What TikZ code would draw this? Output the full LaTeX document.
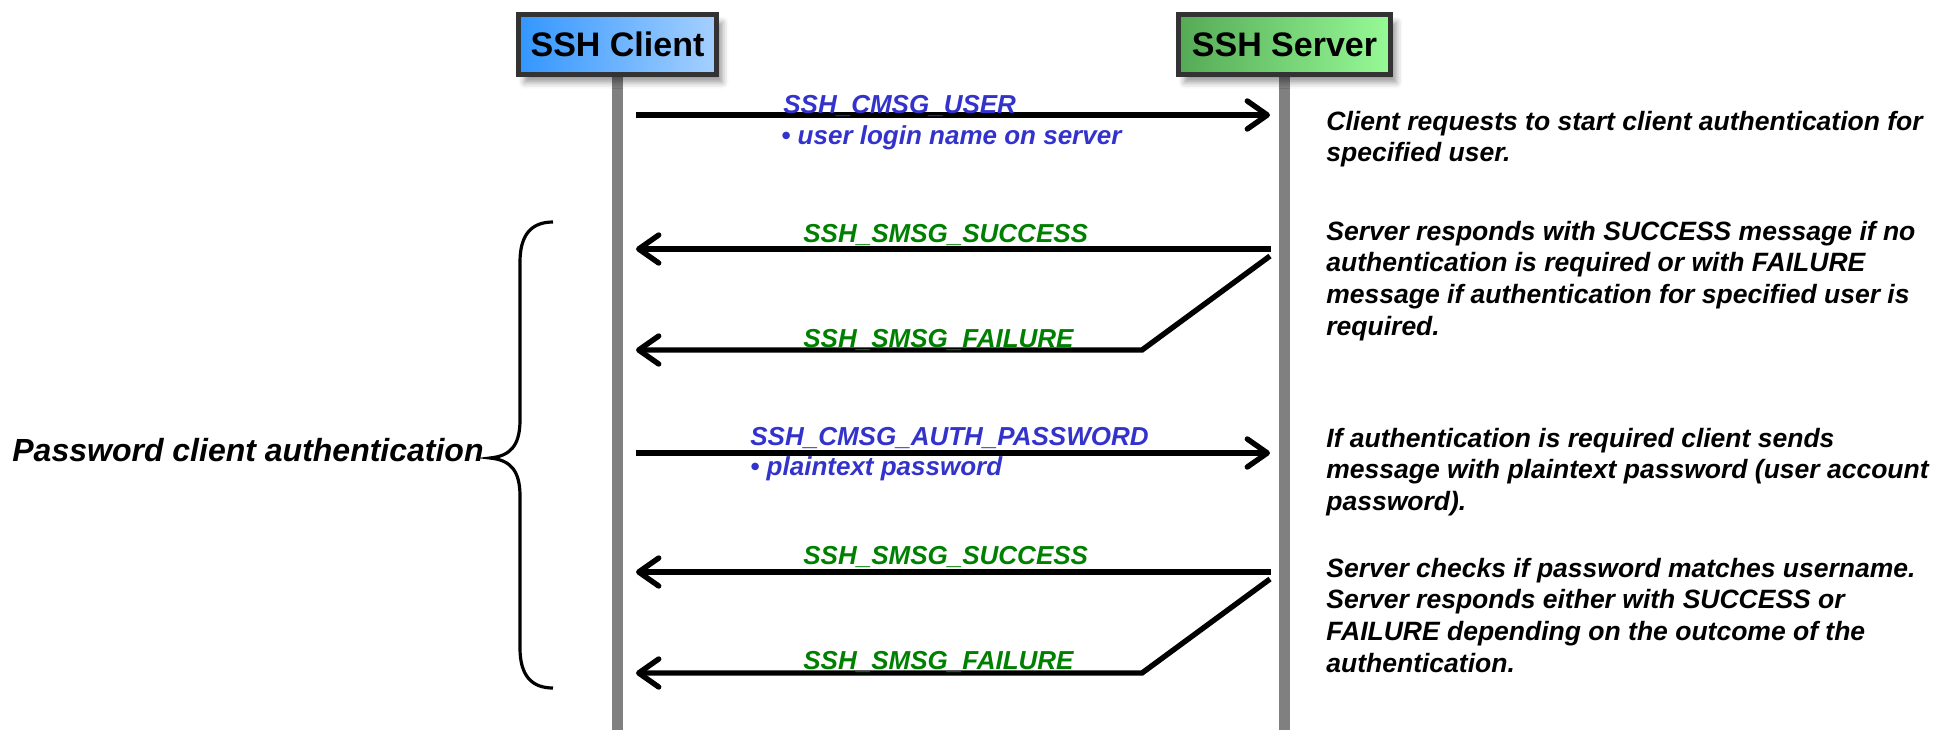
\documentclass[tikz,border=0pt]{standalone}
\usepackage{fontspec}
\setmainfont{Liberation Sans}
\usetikzlibrary{arrows.meta,shadows.blur,backgrounds}
\definecolor{lblue}{RGB}{51,51,204}
\definecolor{lgreen}{RGB}{0,128,0}
\definecolor{lifegray}{RGB}{128,128,128}
\definecolor{bordergray}{RGB}{51,51,51}
\definecolor{cliA}{RGB}{51,150,255}
\definecolor{cliB}{RGB}{165,208,255}
\definecolor{srvA}{RGB}{85,170,85}
\definecolor{srvB}{RGB}{150,250,150}
\begin{document}
\begin{tikzpicture}[x=0.5pt,y=-0.5pt,
  hdr/.style={draw=bordergray, line width=2.5pt, inner sep=0pt, minimum height=30pt,
    font=\fontsize{17}{20}\selectfont\bfseries,
    blur shadow={shadow xshift=3pt,shadow yshift=-4pt,shadow blur radius=3pt,shadow opacity=40}},
  lifeline/.style={draw=lifegray, line width=5.5pt},
  msg/.style={draw=black, line width=2.7pt, -{Straight Barb[length=10pt,width=14pt,round]}},
  clabel/.style={anchor=base west, inner sep=0pt, text=lblue, font=\fontsize{13}{15.9}\selectfont\bfseries\itshape},
  slabel/.style={anchor=base west, inner sep=0pt, text=lgreen, font=\fontsize{13}{15.9}\selectfont\bfseries\itshape},
  note/.style={anchor=base west, inner sep=0pt, font=\fontsize{13.25}{15.9}\selectfont\bfseries\itshape},
  brace/.style={draw=black, line width=1.6pt}
]
\useasboundingbox (0,0) rectangle (1935,730);

% headers
\node[hdr, minimum width=99pt, left color=cliA, middle color=cliA, right color=cliB] (client) at (617.5,44.5) {SSH Client};
\node[hdr, minimum width=106pt, left color=srvA, right color=srvB] (server) at (1284.5,44.5) {SSH Server};

% lifelines
\coordinate (cbot) at (617.5,730);
\coordinate (sbot) at (1284.5,730);
\begin{scope}[on background layer]
  \draw[lifeline] (client.south) -- (cbot);
  \draw[lifeline] (server.south) -- (sbot);
\end{scope}

% message endpoints
\coordinate (c1) at (636,115);  \coordinate (s1) at (1270,115);
\coordinate (s2) at (1271,249); \coordinate (c2) at (636,249);
\coordinate (s3) at (1270,256); \coordinate (k3) at (1142,350); \coordinate (c3) at (636,350);
\coordinate (c4) at (636,453);  \coordinate (s4) at (1270,453);
\coordinate (s5) at (1271,572); \coordinate (c5) at (636,572);
\coordinate (s6) at (1270,579); \coordinate (k6) at (1142,673); \coordinate (c6) at (636,673);

\draw[msg] (c1) -- (s1);
\draw[msg] (s2) -- (c2);
\draw[msg] (s3) -- (k3) -- (c3);
\draw[msg] (c4) -- (s4);
\draw[msg] (s5) -- (c5);
\draw[msg] (s6) -- (k6) -- (c6);

% message labels
\node[clabel] (l1) at (783,113) {SSH\_CMSG\_USER};
\node[clabel] (l1b) at (781,144) {• user login name on server};
\node[slabel] (l2) at (803,242) {SSH\_SMSG\_SUCCESS};
\node[slabel] (l3) at (803,347) {SSH\_SMSG\_FAILURE};
\node[clabel] (l4) at (750,445) {SSH\_CMSG\_AUTH\_PASSWORD};
\node[clabel] (l4b) at (750,475) {• plaintext password};
\node[slabel] (l5) at (803,564) {SSH\_SMSG\_SUCCESS};
\node[slabel] (l6) at (803,669) {SSH\_SMSG\_FAILURE};

% notes
\node[note] (n1) at (1326,130) {\begin{tabular}[t]{@{}l@{}}Client requests to start client authentication for\\ specified user.\end{tabular}};
\node[note] (n2) at (1326,240) {\begin{tabular}[t]{@{}l@{}}Server responds with SUCCESS message if no\\ authentication is required or with FAILURE\\ message if authentication for specified user is\\ required.\end{tabular}};
\node[note] (n3) at (1326,447) {\begin{tabular}[t]{@{}l@{}}If authentication is required client sends\\ message with plaintext password (user account\\ password).\end{tabular}};
\node[note] (n4) at (1326,577) {\begin{tabular}[t]{@{}l@{}}Server checks if password matches username.\\ Server responds either with SUCCESS or\\ FAILURE depending on the outcome of the\\ authentication.\end{tabular}};

% group brace and label
\node[anchor=base east, inner sep=0pt, font=\fontsize{16}{19}\selectfont\bfseries\itshape] (grp) at (484,461) {Password client authentication};
\draw[brace] (553,222) .. controls (532,222) and (520,234) .. (520,262) -- (520,420)
  .. controls (520,446) and (510,456) .. (490,458)
  .. controls (510,460) and (520,470) .. (520,496) -- (520,648)
  .. controls (520,676) and (532,688) .. (553,688);
\end{tikzpicture}
\end{document}
